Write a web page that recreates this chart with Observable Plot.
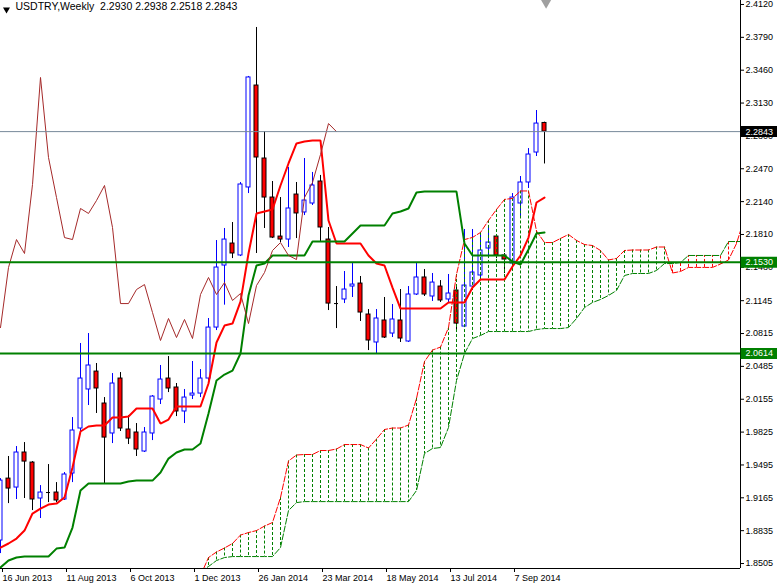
<!DOCTYPE html>
<html><head><meta charset="utf-8">
<script src="https://cdn.jsdelivr.net/npm/d3@7"></script>
<script src="https://cdn.jsdelivr.net/npm/@observablehq/plot@0.6"></script>
<style>body{margin:0;background:#fff}#chart svg{display:block}</style>
</head><body><div id="chart"></div>
<script>
// ---- data (weekly USDTRY, bar 0 = week of 16 Jun 2013) ----
const titleSymbol = "USDTRY,Weekly";
const titleOHLC = [2.2930, 2.2938, 2.2518, 2.2843];
const dateTickIndex = [0, 8, 16, 24, 32, 40, 48, 56, 64];
const dateTickLabels = ["16 Jun 2013","11 Aug 2013","6 Oct 2013","1 Dec 2013","26 Jan 2014","23 Mar 2014","18 May 2014","13 Jul 2014","7 Sep 2014"];
const priceTicks = [2.4120,2.3790,2.3460,2.3130,2.2800,2.2470,2.2140,2.1810,2.1480,2.1145,2.0815,2.0485,2.0155,1.9825,1.9495,1.9165,1.8835,1.8505];

const openP = [1.8736,1.9358,1.9268,1.9620,1.9519,1.9158,1.9218,1.9218,1.9148,1.9409,
1.9861,2.0253,2.0433,2.0112,1.9811,2.0363,1.9851,1.9821,1.9630,1.9811,
2.0152,2.0363,2.0273,2.0032,2.0192,2.0212,2.0363,2.0875,2.1498,2.1719,
2.1599,2.2282,2.3306,2.2573,2.2181,2.1789,2.1759,2.2211,2.2031,2.2121,
2.2342,2.1759,2.1116,2.1157,2.1287,2.1317,2.1006,2.0725,2.0946,2.0815,
2.0946,2.0735,2.1207,2.1378,2.1187,2.1287,2.1157,2.1247,2.0885,2.1287,
2.1398,2.1669,2.1789,2.1599,2.1518,2.2121,2.2332,2.2633,2.2930];
const highP = [1.9358,1.9580,1.9680,1.9720,1.9529,1.9288,1.9499,1.9318,1.9419,1.9971,
2.0715,2.0815,2.0514,2.0172,2.0413,2.0423,1.9991,1.9911,1.9871,2.0192,
2.0494,2.0584,2.0313,2.0253,2.0534,2.0453,2.0966,2.1749,2.1870,2.1930,
2.2332,2.3397,2.3889,2.2844,2.2342,2.2181,2.2483,2.2332,2.2573,2.2433,
2.2403,2.1880,2.1287,2.1438,2.1518,2.1388,2.1056,2.1056,2.1177,2.1106,
2.1257,2.1287,2.1518,2.1458,2.1418,2.1347,2.1408,2.1297,2.1860,2.1860,
2.1800,2.1900,2.1809,2.1619,2.2221,2.2392,2.2673,2.3055,2.2938];
const lowP = [1.8605,1.9107,1.9148,1.9158,1.9037,1.8957,1.9117,1.9117,1.9138,1.9318,
1.9821,2.0092,2.0012,1.9308,1.9710,1.9831,1.9700,1.9580,1.9620,1.9740,
2.0102,2.0222,1.9981,1.9911,2.0152,2.0172,2.0343,2.0845,2.1100,2.1568,
2.1588,2.2221,2.1619,2.1870,2.1769,2.1729,2.1679,2.1769,2.2000,2.2101,
2.1739,2.1046,2.0865,2.1116,2.1177,2.0936,2.0644,2.0614,2.0765,2.0775,
2.0725,2.0725,2.1197,2.1187,2.1137,2.1127,2.1116,2.0845,2.0875,2.1247,
2.1367,2.1568,2.1568,2.1418,2.1498,2.1970,2.2272,2.2593,2.2518];
const closeP = [1.9338,1.9258,1.9620,1.9529,1.9148,1.9218,1.9218,1.9138,1.9399,1.9841,
2.0363,2.0494,2.0263,1.9770,2.0313,1.9861,1.9760,1.9650,1.9821,2.0182,
2.0353,2.0263,2.0032,2.0172,2.0212,2.0363,2.0875,2.1478,2.1759,2.1619,
2.2312,2.3387,2.2583,2.2181,2.1779,2.1759,2.2071,2.2021,2.2151,2.2302,
2.1880,2.1116,2.1116,2.1257,2.1307,2.1026,2.0745,2.0966,2.0775,2.0956,
2.0765,2.1207,2.1378,2.1207,2.1327,2.1147,2.1217,2.0915,2.1297,2.1428,
2.1649,2.1729,2.1599,2.1558,2.2181,2.2332,2.2613,2.2924,2.2843];

const tenkan = [1.8665,1.8706,1.8756,1.8836,1.9007,1.9057,1.9097,1.9107,1.9168,1.9469,
1.9831,1.9881,1.9891,1.9891,1.9971,1.9971,1.9981,2.0062,2.0062,2.0062,
1.9911,1.9951,2.0082,2.0082,2.0082,2.0082,2.0313,2.0725,2.0895,2.0915,
2.1136,2.1619,2.2020,2.2041,2.2061,2.2302,2.2523,2.2724,2.2744,2.2754,
2.2754,2.1950,2.1719,2.1719,2.1719,2.1719,2.1599,2.1518,2.1498,2.1277,
2.1066,2.1066,2.1066,2.1066,2.1066,2.1066,2.1127,2.1127,2.1127,2.1277,
2.1358,2.1358,2.1358,2.1358,2.1488,2.1599,2.1779,2.2131,2.2181];
const kijun = [1.8465,1.8535,1.8565,1.8575,1.8575,1.8575,1.8575,1.8655,1.8665,1.8866,
1.9238,1.9308,1.9308,1.9308,1.9308,1.9308,1.9328,1.9338,1.9338,1.9338,
1.9419,1.9559,1.9620,1.9650,1.9650,1.9710,2.0012,2.0343,2.0403,2.0443,
2.0614,2.1197,2.1498,2.1518,2.1599,2.1599,2.1599,2.1599,2.1599,2.1739,
2.1739,2.1739,2.1739,2.1739,2.1820,2.1900,2.1900,2.1900,2.1900,2.2021,
2.2041,2.2071,2.2231,2.2241,2.2241,2.2241,2.2241,2.2241,2.1719,2.1599,
2.1599,2.1599,2.1599,2.1599,2.1538,2.1508,2.1659,2.1820,2.1830];

const kumoStart = 25; // first bar index of the senkou arrays
const senkouA = [1.8384,
1.8565,1.8621,1.8661,1.8706,1.8791,1.8816,1.8836,1.8881,1.8917,1.9168,
1.9535,1.9595,1.9600,1.9600,1.9640,1.9640,1.9655,1.9700,1.9700,1.9700,
1.9665,1.9755,1.9851,1.9866,1.9866,1.9896,2.0163,2.0534,2.0649,2.0679,
2.0875,2.1408,2.1759,2.1780,2.1830,2.1951,2.2061,2.2162,2.2172,2.2247,
2.2247,2.1845,2.1729,2.1729,2.1770,2.1810,2.1750,2.1709,2.1699,2.1649,
2.1554,2.1569,2.1649,2.1654,2.1654,2.1654,2.1684,2.1684,2.1423,2.1438,
2.1479,2.1479,2.1479,2.1479,2.1513,2.1554,2.1719,2.1976,2.2006];
const senkouB = [1.8425,
1.8475,1.8535,1.8565,1.8575,1.8575,1.8575,1.8575,1.8575,1.8575,1.8665,
1.9037,1.9117,1.9127,1.9127,1.9127,1.9127,1.9127,1.9127,1.9127,1.9127,
1.9127,1.9127,1.9127,1.9127,1.9127,1.9127,1.9238,1.9610,1.9660,1.9670,
1.9871,2.0343,2.0614,2.0765,2.0795,2.0835,2.0835,2.0835,2.0835,2.0835,
2.0835,2.0855,2.0865,2.0865,2.0865,2.0875,2.0966,2.1076,2.1127,2.1157,
2.1197,2.1247,2.1398,2.1418,2.1418,2.1418,2.1448,2.1518,2.1518,2.1528,
2.1599,2.1599,2.1599,2.1599,2.1599,2.1739,2.1739,2.1739,2.1739];
const chikou = [2.0875,2.1478,2.1759,2.1619,2.2312,2.3387,2.2583,2.2181,2.1779,2.1759,
2.2071,2.2021,2.2151,2.2302,2.1880,2.1116,2.1116,2.1257,2.1307,2.1026,
2.0745,2.0966,2.0775,2.0956,2.0765,2.1207,2.1378,2.1207,2.1327,2.1147,
2.1217,2.0915,2.1297,2.1428,2.1649,2.1729,2.1599,2.1558,2.2181,2.2332,
2.2613,2.2924,2.2843];

const levelPrices = [2.2843, 2.1530, 2.0614];
const levelColors = ["#000000", "#008000", "#008000"];

// ---- build tables ----
const bars = d3.range(closeP.length).map(i => ({i, o: openP[i], h: highP[i], l: lowP[i], c: closeP[i]}));
const kind = d => d.c > d.o ? "up" : d.c < d.o ? "down" : "doji";
const bodies = bars.filter(d => kind(d) !== "doji");
const dojis = bars.filter(d => kind(d) === "doji");
const series = (arr, start = 0) => arr.map((v, k) => ({i: k + start, v}));
const kumo = senkouA.map((a, k) => ({i: k + kumoStart, a, b: senkouB[k]}));
const levels = levelPrices.map((p, k) => ({p, c: levelColors[k]}));

const xMax = 92.5, yMin = 1.8455, yMax = 2.4160;
const halfBody = 0.25;
const fsAxis = 9, fsTitle = 10.5;

const chart = Plot.plot({
  width: 777, height: 584,
  marginLeft: 0, marginRight: 37, marginTop: 0, marginBottom: 16,
  x: {domain: [0, xMax], axis: null},
  y: {domain: [yMin, yMax], axis: null},
  style: {fontFamily: "'Liberation Sans', Arial, sans-serif", fontSize: fsAxis + "px", color: "#000", background: "#fff"},
  marks: [
    // candles
    Plot.ruleX(bars, {x: "i", y1: "l", y2: "h", stroke: d => kind(d) === "up" ? "#0000ff" : "#000000", strokeWidth: 1, clip: true}),
    Plot.rect(bodies, {x1: d => d.i - halfBody, x2: d => d.i + halfBody, y1: "o", y2: "c",
      fill: d => kind(d) === "up" ? "#ffffff" : "#ff0000",
      stroke: d => kind(d) === "up" ? "#0000ff" : "#000000", strokeWidth: 1, clip: true}),
    Plot.ruleY(dojis, {y: "o", x1: d => d.i - halfBody, x2: d => d.i + halfBody, stroke: "#000", strokeWidth: 1, clip: true}),
    // kumo hatching and spans
    Plot.ruleX(kumo, {x: "i", y1: "a", y2: "b", stroke: d => d.a >= d.b ? "#008000" : "#ff0000", strokeWidth: 1, strokeDasharray: "3,2", clip: true}),
    Plot.line(kumo, {x: "i", y: "a", stroke: "#ff0000", strokeWidth: 1, strokeDasharray: "6,2", clip: true}),
    Plot.line(kumo, {x: "i", y: "b", stroke: "#008000", strokeWidth: 1, strokeDasharray: "6,2", clip: true}),
    // tenkan, kijun, chikou
    Plot.line(series(tenkan), {x: "i", y: "v", stroke: "#ff0000", strokeWidth: 2, strokeLinejoin: "miter", clip: true}),
    Plot.line(series(kijun), {x: "i", y: "v", stroke: "#008000", strokeWidth: 2, strokeLinejoin: "miter", clip: true}),
    Plot.line(series(chikou), {x: "i", y: "v", stroke: "#a52a2a", strokeWidth: 1, clip: true}),
    // horizontal levels
    Plot.ruleY(levels.slice(0, 1), {y: "p", stroke: "#778899", strokeWidth: 1}),
    Plot.ruleY(levels.slice(1), {y: "p", stroke: "#008000", strokeWidth: 2}),
    // frame (bottom + right)
    Plot.ruleY([yMin], {stroke: "#000"}),
    Plot.ruleX([xMax], {stroke: "#000"}),
    // axes
    Plot.axisY({anchor: "right", ticks: priceTicks, tickFormat: d => d.toFixed(4), tickSize: 3, tickPadding: 2, label: null, fontSize: fsAxis}),
    Plot.axisX({anchor: "bottom", ticks: dateTickIndex, tickFormat: d => dateTickLabels[dateTickIndex.indexOf(d)], tickSize: 4, tickPadding: 2, textAnchor: "start", dx: 2, label: null, fontSize: fsAxis}),
    // level price labels
    Plot.ruleY(levels, {y: "p", x1: () => xMax + 0.07, x2: () => xMax + 4.7, stroke: "c", strokeWidth: 11}),
    Plot.text(levels, {x: () => xMax, y: "p", text: d => d.p.toFixed(4), textAnchor: "start", dx: 5, fill: "#fff", fontSize: fsAxis}),
    // title
    Plot.dot([0], {frameAnchor: "top-left", dx: 6, dy: 9, symbol: "triangle", rotate: 180, r: 2.6, fill: "#000", stroke: "none"}),
    Plot.text([titleSymbol + "\u00a0\u00a0" + titleOHLC.map(v => v.toFixed(4)).join(" ")], {frameAnchor: "top-left", dx: 15, dy: 2, textAnchor: "start", lineAnchor: "top", fontSize: fsTitle, fill: "#000"}),
    // chart shift marker
    Plot.dot([0], {x: () => closeP.length - 1 + 0.2, frameAnchor: "top", dy: 2, symbol: "triangle", rotate: 180, r: 4, fill: "#a0a0a0", stroke: "none"})
  ]
});
document.getElementById("chart").appendChild(chart);
</script>
</body></html>
